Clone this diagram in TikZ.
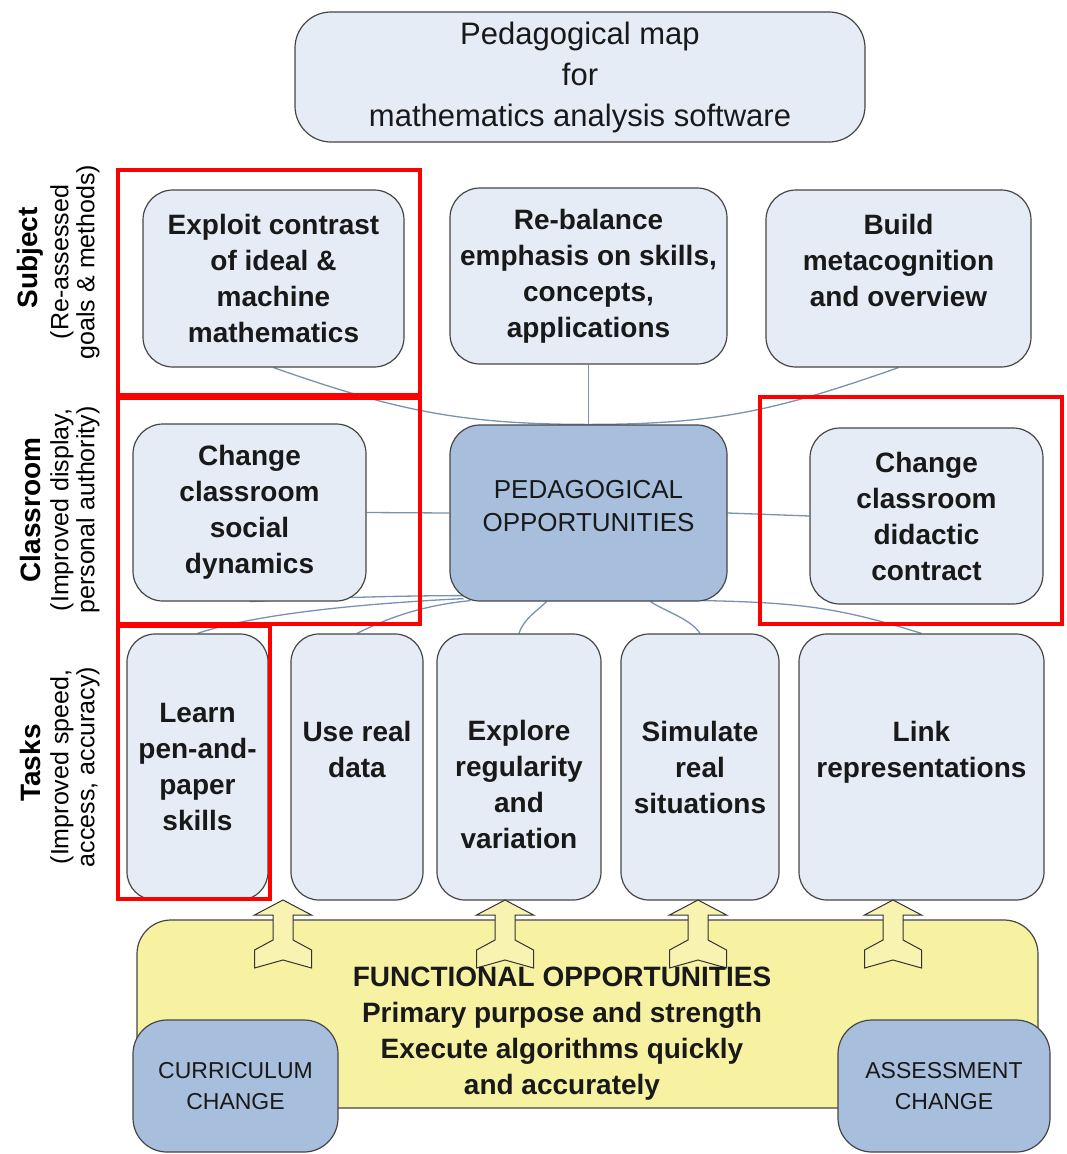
\documentclass[tikz,border=0pt]{standalone}
\usepackage{fontspec}
\setmainfont{Liberation Sans}
\usetikzlibrary{calc}
\definecolor{boxfill}{RGB}{230,236,246}
\definecolor{pedfill}{RGB}{168,190,221}
\definecolor{yel}{RGB}{247,241,162}
\definecolor{linec}{RGB}{122,146,178}
\definecolor{edgec}{RGB}{70,70,70}
\pgfdeclarelayer{bg}
\pgfsetlayers{bg,main}
\newcommand{\fatuparrow}[1]{%
  \draw[arrowshape] (#1,900) -- ++(28.5,15) -- ++(-18.5,0) -- ++(0,25) -- ++(18.5,10) -- ++(0,18)
    -- ++(-28.5,-8) -- ++(-28.5,8) -- ++(0,-18) -- ++(18.5,-10) -- ++(0,-25) -- ++(-18.5,0) -- cycle;}
\begin{document}
\begin{tikzpicture}[x=1pt,y=-1pt,
  box/.style={draw=edgec, line width=1.2pt, fill=boxfill, rounded corners=30pt, align=center,
    inner sep=0pt, font=\bfseries\fontsize{28}{36}\selectfont, text=black!90},
  pedbox/.style={box, fill=pedfill, font=\fontsize{26}{33}\selectfont},
  chbox/.style={box, fill=pedfill, rounded corners=34pt, font=\fontsize{23}{31}\selectfont},
  yelbox/.style={draw=edgec, line width=1.2pt, fill=yel, rounded corners=34pt, inner sep=0pt},
  conn/.style={draw=linec, line width=1.3pt},
  arrowshape/.style={draw=black!80, line width=1pt, fill=yel!85!white, line join=miter},
  redbox/.style={draw=red, line width=4pt},
  sidehead/.style={rotate=90, font=\bfseries\fontsize{28}{30}\selectfont},
  sidesub/.style={rotate=90, align=center, font=\fontsize{25}{26}\selectfont}]
\useasboundingbox (0,0) rectangle (1067,1154);

% title
\node[box, font=\fontsize{31}{41}\selectfont, rounded corners=36pt, minimum width=570pt, minimum height=130pt] (title) at (580,77)
  {Pedagogical map\\for\\mathematics analysis software};

% subject row
\node[box, minimum width=261pt, minimum height=177pt] (A) at (273.5,278.5)
  {Exploit contrast\\of ideal \&\\machine\\mathematics};
\node[box, minimum width=277pt, minimum height=176pt] (B) at (588.5,276)
  {Re-balance\\emphasis on skills,\\concepts,\\applications};
\node[box, minimum width=265pt, minimum height=177pt] (C) at (898.5,278.5)
  {Build\\metacognition\\and overview\\\mbox{}};

% classroom row
\node[box, minimum width=233pt, minimum height=177pt] (D) at (249.5,512.5)
  {Change\\classroom\\social\\dynamics};
\node[pedbox, minimum width=277pt, minimum height=176pt] (ped) at (588.5,513)
  {PEDAGOGICAL\\OPPORTUNITIES\\[-18pt]\mbox{}};
\node[box, minimum width=233pt, minimum height=176pt] (E) at (926.5,516)
  {Change\\classroom\\didactic\\contract};

% tasks row
\node[box, rounded corners=28pt, minimum width=141pt, minimum height=266pt] (F) at (197.5,767)
  {Learn\\pen-and-\\paper\\skills};
\node[box, rounded corners=28pt, minimum width=132pt, minimum height=266pt] (G) at (357,767)
  {Use real\\data\\\mbox{}};
\node[box, rounded corners=28pt, minimum width=164pt, minimum height=266pt] (H) at (519,767)
  {\mbox{}\\[20pt]Explore\\regularity\\and\\variation};
\node[box, rounded corners=28pt, minimum width=158pt, minimum height=266pt] (I) at (700,767)
  {Simulate\\real\\situations};
\node[box, rounded corners=28pt, minimum width=245pt, minimum height=266pt] (J) at (921.5,767)
  {Link\\representations\\\mbox{}};

% functional opportunities
\node[yelbox, minimum width=901pt, minimum height=188pt] (func) at (587.5,1014) {};
\fatuparrow{283}
\fatuparrow{505}
\fatuparrow{698}
\fatuparrow{893}
\node[align=center, font=\bfseries\fontsize{28}{36}\selectfont, text=black!90] (functxt) at (562,1034)
  {FUNCTIONAL OPPORTUNITIES\\Primary purpose and strength\\Execute algorithms quickly\\and accurately};
\node[chbox, minimum width=205pt, minimum height=132pt] (curr) at (235.5,1086) {CURRICULUM\\CHANGE};
\node[chbox, minimum width=212pt, minimum height=132pt] (assess) at (944,1086) {ASSESSMENT\\CHANGE};

% side labels
\node[sidehead] (lS) at (30,258) {Subject};
\node[sidesub] (sS) at (75,262) {(Re-assessed\\goals \& methods)};
\node[sidehead] (lC) at (30,510) {Classroom};
\node[sidesub] (sC) at (75,510) {(Improved display,\\personal authority)};
\node[sidehead] (lT) at (30,763) {Tasks};
\node[sidesub] (sT) at (75,767) {(Improved speed,\\access, accuracy)};

% connectors (behind the boxes)
\begin{pgfonlayer}{bg}
\fill[white] (0,0) rectangle (1067,1154);
\draw[conn] (A.south) .. controls +(120,42) and +(-130,0) .. (ped.north);
\draw[conn] (C.south) .. controls +(-120,42) and +(130,0) .. (ped.north);
\draw[conn] (B.south) -- (ped.north);
\draw[conn] (D.east) -- (ped.west);
\draw[conn] (ped.east) -- (E.west);
\draw[conn] ([xshift=-123pt,yshift=6pt]ped.south) .. controls +(-60,0) and +(80,-4) .. (D.south);
\draw[conn] ([xshift=-125pt,yshift=3pt]ped.south) .. controls +(-100,5) and +(60,-20) .. (F.north);
\draw[conn] ([xshift=-118pt,yshift=1pt]ped.south) .. controls +(-50,5) and +(30,-15) .. (G.north);
\draw[conn] ([xshift=-42pt]ped.south) .. controls +(-10,10) and +(5,-15) .. (H.north);
\draw[conn] ([xshift=62pt]ped.south) .. controls +(15,10) and +(-10,-15) .. (I.north);
\draw[conn] ([xshift=115pt,yshift=1pt]ped.south) .. controls +(100,2) and +(-80,-25) .. (J.north);
\end{pgfonlayer}

% red highlight frames
\draw[redbox] (118,170) rectangle (420,395);
\draw[redbox] (118,398) rectangle (420,624);
\draw[redbox] (760,397) rectangle (1062,624);
\draw[redbox] (118,626) rectangle (270,899);
\end{tikzpicture}
\end{document}
